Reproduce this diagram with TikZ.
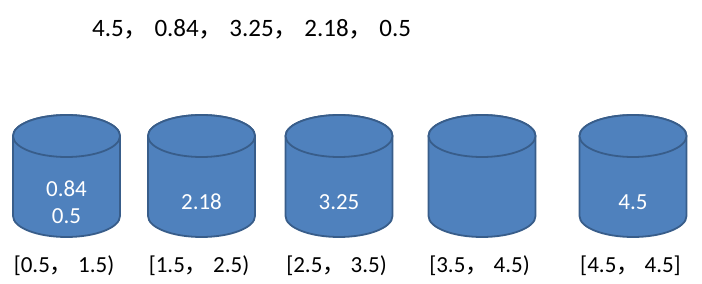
\documentclass[tikz,border=0pt]{standalone}
\usepackage{fontspec}
\setmainfont{Carlito}
\newfontfamily\cjk{Noto Sans CJK SC}
\usetikzlibrary{positioning}
\definecolor{bucketBlue}{HTML}{4F81BD}
\definecolor{bucketEdge}{HTML}{385D8A}
\newcommand{\fwc}{{\cjk ，}}

\begin{document}
\begin{tikzpicture}[x=1pt, y=-1pt,
    bucket/.style={fill=bucketBlue, draw=bucketEdge, line width=1.8pt},
    bucketval/.style={text=white, align=center, inner sep=0pt,
      font=\fontsize{23}{27}\selectfont},
    rangelabel/.style={anchor=base, inner sep=0pt, font=\fontsize{23}{26}\selectfont}]
  \useasboundingbox (0,0) rectangle (702,284);
  % input values
  \node[anchor=base west, inner sep=0pt, font=\fontsize{25}{28}\selectfont]
    (input) at (92,36) {4.5\fwc\ 0.84\fwc\ 3.25\fwc\ 2.18\fwc\ 0.5};
  % buckets
  \foreach \cx/\val/\rng [count=\i] in {66.5/{0.84\\0.5}/{[0.5\fwc\ 1.5)},
      201.5/{2.18}/{[1.5\fwc\ 2.5)}, 339/{3.25}/{[2.5\fwc\ 3.5)},
      482/{}/{[3.5\fwc\ 4.5)}, 633/{4.5}/{[4.5\fwc\ 4.5]}} {
    \path[bucket] (\cx-53.5,136) -- (\cx-53.5,216)
      arc[start angle=180, end angle=0, x radius=53.5, y radius=21]
      -- (\cx+53.5,136)
      arc[start angle=0, end angle=-180, x radius=53.5, y radius=21] -- cycle;
    \path[bucket] (\cx,136) ellipse [x radius=53.5, y radius=21];
    \node[bucketval] (val\i) at (\cx,202) {\val};
    \node[rangelabel] (rng\i) at (\cx-2.5,272) {\rng};
  }
\end{tikzpicture}
\end{document}
